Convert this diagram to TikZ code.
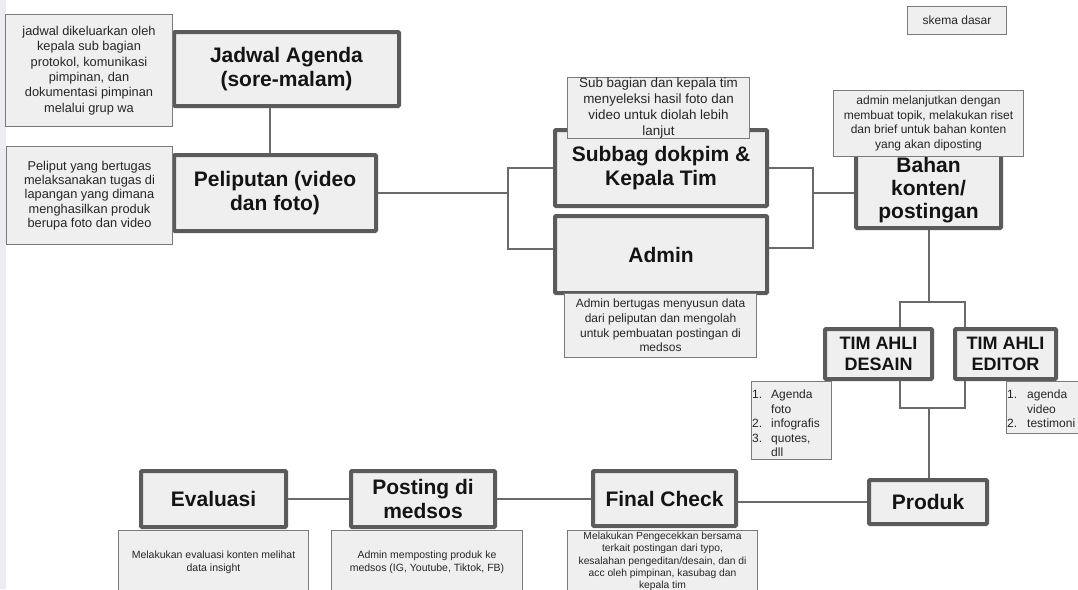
\documentclass[tikz,border=0pt]{standalone}
\usepackage{fontspec}
\setmainfont{Liberation Sans}
\definecolor{boxfill}{HTML}{EFEFEF}
\definecolor{boxline}{HTML}{5B5B5B}
\definecolor{conn}{HTML}{6A6A6A}
\definecolor{noteline}{HTML}{7A7A7A}
\definecolor{strip}{HTML}{ECEDF0}
\tikzset{
  mainbox/.style={draw=boxline, line width=4pt, fill=boxfill, rounded corners=1pt, align=center,
    font=\fontsize{21}{24}\selectfont\bfseries, text=black!92, inner sep=0pt},
  notebox/.style={draw=noteline, line width=1pt, fill=boxfill, align=center,
    font=\fontsize{12}{15}\selectfont, text=black!85, inner sep=0pt},
  smallnote/.style={notebox, font=\fontsize{10.5}{13}\selectfont},
  listtext/.style={anchor=north west, inner sep=0pt, align=left, text=black!85},
  link/.style={draw=conn, line width=2pt}
}
\begin{document}
\begin{tikzpicture}[x=1pt,y=-1pt]
\useasboundingbox (0,0) rectangle (1078,589);
\clip (0,0) rectangle (1078,589);
\fill[white] (0,0) rectangle (1078,589);
\fill[strip] (0,0) rectangle (6,589);

% main boxes
\node[mainbox, minimum width=225, minimum height=74] (jadwal) at (286.5,69) {Jadwal Agenda\\(sore-malam)};
\node[mainbox, minimum width=202, minimum height=76] (peliputan) at (275,193) {Peliputan (video\\dan foto)};
\node[mainbox, minimum width=212, minimum height=76] (subbag) at (661,168) {Subbag dokpim \&\\Kepala Tim};
\node[mainbox, minimum width=212, minimum height=77] (admin) at (661,254.5) {Admin};
\node[mainbox, font=\fontsize{21}{23}\selectfont\bfseries, minimum width=145, minimum height=76] (bahan) at (928.5,190) {Bahan\\konten/\\postingan};
\node[mainbox, font=\fontsize{18}{21}\selectfont\bfseries, minimum width=107, minimum height=50] (desain) at (878.5,354) {TIM AHLI\\DESAIN};
\node[mainbox, font=\fontsize{18}{21}\selectfont\bfseries, minimum width=101, minimum height=50] (editor) at (1005.5,354) {TIM AHLI\\EDITOR};
\node[mainbox, minimum width=118, minimum height=44] (produk) at (928,502) {Produk};
\node[mainbox, minimum width=143, minimum height=55] (final) at (664.5,498.5) {Final Check};
\node[mainbox, minimum width=144, minimum height=56] (posting) at (423,499) {Posting di\\medsos};
\node[mainbox, minimum width=145, minimum height=56] (evaluasi) at (213.5,499) {Evaluasi};

% branch points
\coordinate (brL) at (508,193);
\coordinate (brR) at (813,193);
\coordinate (brT) at (928.5,302);
\coordinate (brB) at (928.5,408);

% connectors
\draw[link] ([xshift=-5pt]peliputan.north) -- ([xshift=-5pt]peliputan.north |- jadwal.south);
\draw[link] (peliputan.east) -- (brL);
\draw[link] (subbag.west) -| (brL) |- ([yshift=5.5pt]admin.west);
\draw[link] (subbag.east) -| (brR) |- ([yshift=6.5pt]admin.east);
\draw[link] (brR) -- (brR -| bahan.west);
\draw[link] (bahan.south) -- (brT);
\draw[link] ([xshift=21.5pt]desain.north) |- (brT) -| ([xshift=-40.5pt]editor.north);
\draw[link] ([xshift=21.5pt]desain.south) |- (brB) -| ([xshift=-40.5pt]editor.south);
\draw[link] (brB) -- (brB |- produk.north);
\draw[link] (produk.west) -- (produk.west -| final.east);
\draw[link] (final.west) -- (final.west -| posting.east);
\draw[link] (posting.west) -- (posting.west -| evaluasi.east);

% notes
\node[notebox, font=\fontsize{12.8}{15.4}\selectfont, minimum width=167, minimum height=112] (jadwalnote) at (89,70.5) {jadwal dikeluarkan oleh\\kepala sub bagian\\protokol, komunikasi\\pimpinan, dan\\dokumentasi pimpinan\\melalui grup wa};
\node[notebox, font=\fontsize{12.8}{14.4}\selectfont, minimum width=166, minimum height=98] (peliputannote) at (89.5,195.5) {Peliput yang bertugas\\melaksanakan tugas di\\lapangan yang dimana\\menghasilkan produk\\berupa foto dan video};
\node[notebox, font=\fontsize{13.4}{16}\selectfont, minimum width=182, minimum height=59] (subbagnote) at (658.5,108) {Sub bagian dan kepala tim\\menyeleksi hasil foto dan\\video untuk diolah lebih\\lanjut};
\node[notebox, font=\fontsize{12}{14.7}\selectfont, minimum width=192, minimum height=64] (adminnote) at (660.5,325.5) {Admin bertugas menyusun data\\dari peliputan dan mengolah\\untuk pembuatan postingan di\\medsos};
\node[notebox, minimum width=99, minimum height=28] (skema) at (957,20.5) {skema dasar};
\node[notebox, font=\fontsize{12}{14.7}\selectfont, minimum width=190, minimum height=66] (bahannote) at (928.5,123.5) {admin melanjutkan dengan\\membuat topik, melakukan riset\\dan brief untuk bahan konten\\yang akan diposting};

\node[notebox, minimum width=80, minimum height=78] (desainlist) at (791.5,420.5) {};
\node[listtext, font=\fontsize{12}{14.5}\selectfont] (desainitems) at (752,390) {\makebox[19pt][l]{1.}Agenda\\\hspace*{19pt}foto\\\makebox[19pt][l]{2.}infografis\\\makebox[19pt][l]{3.}quotes,\\\hspace*{19pt}dll};
\node[notebox, minimum width=73, minimum height=52] (editorlist) at (1042.5,407.5) {};
\node[listtext, font=\fontsize{12}{14.5}\selectfont] (editoritems) at (1007,390) {\makebox[20pt][l]{1.}agenda\\\hspace*{20pt}video\\\makebox[20pt][l]{2.}testimoni};

\node[smallnote, minimum width=190, minimum height=64] (evalnote) at (213.5,562.5) {Melakukan evaluasi konten melihat\\data insight};
\node[smallnote, minimum width=191, minimum height=64] (postingnote) at (427,562.5) {Admin memposting produk ke\\medsos (IG, Youtube, Tiktok, FB)};
\node[smallnote, font=\fontsize{10.3}{12.3}\selectfont, minimum width=190, minimum height=62] (finalnote) at (662.5,561.5) {Melakukan Pengecekkan bersama\\terkait postingan dari typo,\\kesalahan pengeditan/desain, dan di\\acc oleh pimpinan, kasubag dan\\kepala tim};
\end{tikzpicture}
\end{document}
